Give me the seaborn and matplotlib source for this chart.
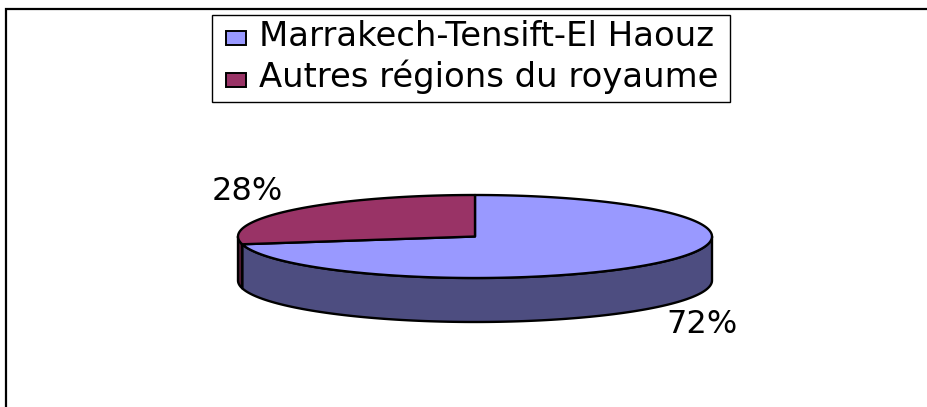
import numpy as np
import matplotlib
matplotlib.use("Agg")
import matplotlib.pyplot as plt
from matplotlib.patches import Polygon, Rectangle
import seaborn as sns

# ---- data ----
categories = ["Marrakech-Tensift-El Haouz", "Autres régions du royaume"]
values = [72, 28]
pct_labels = ["72%", "28%"]
top_colors = ["#9999FF", "#993366"]
side_colors = ["#4D4D80", "#4D1A33"]

sns.set_theme(style="white")
plt.rcParams["font.family"] = ["DejaVu Sans"]
plt.rcParams["text.color"] = "black"

W, H = 928, 407
fig = plt.figure(figsize=(W / 100, H / 100), dpi=100)
ax = fig.add_axes([0, 0, 1, 1])
ax.set_xlim(0, W)
ax.set_ylim(H, 0)
ax.axis("off")

# geometry of the 3D pie (pixel space)
cx, cy = 475, 236.5
a, b = 237, 41.5
depth = 44


def pt(theta_deg, dz=0.0):
    t = np.radians(theta_deg)
    return cx + a * np.cos(t), cy - b * np.sin(t) + dz


# slices drawn clockwise starting at 12 o'clock
total = float(sum(values))
angles = []
start = 90.0
for v in values:
    sweep = 360.0 * v / total
    angles.append((start - sweep, start))
    start -= sweep

edge_kw = dict(edgecolor="black", linewidth=1.7, joinstyle="round")

# side walls (front half)
for (t1, t2), sc in zip(angles, side_colors):
    for shift in (-360, 0, 360):
        lo, hi = t1 + shift, t2 + shift
        s_lo, s_hi = max(lo, 180), min(hi, 360)
        if s_hi > s_lo:
            th = np.linspace(s_lo, s_hi, 120)
            top = [pt(t) for t in th]
            bot = [pt(t, depth) for t in th[::-1]]
            ax.add_patch(Polygon(top + bot, closed=True, facecolor=sc, **edge_kw, zorder=2))

# top faces
for (t1, t2), tc in zip(angles, top_colors):
    th = np.linspace(t1, t2, 240)
    poly = [(cx, cy)] + [pt(t) for t in th]
    ax.add_patch(Polygon(poly, closed=True, facecolor=tc, **edge_kw, zorder=3))

# percentage labels
rx, ry = 1.245, 1.38
for (t1, t2), lab in zip(angles, pct_labels):
    mid = np.radians((t1 + t2) / 2)
    x = cx + rx * a * np.cos(mid)
    y = cy - ry * b * np.sin(mid)
    if np.sin(mid) < 0:
        y += depth + 16
    ax.text(x, y, lab, fontsize=23, ha="center", va="baseline", color="black", zorder=5)

# legend (framed box with swatches)
ax.add_patch(Rectangle((212, 14.5), 518, 87, facecolor="white", edgecolor="black",
                       linewidth=1.0, zorder=6))
for i, (lab, col) in enumerate(zip(categories, top_colors)):
    ytop = 31 + 42 * i
    ax.add_patch(Rectangle((226, ytop), 20, 14, facecolor=col, edgecolor="black",
                           linewidth=1.4, zorder=7))
    ax.text(259, 45.5 + 42 * i, lab, fontsize=24.4, ha="left", va="baseline",
            color="black", zorder=7)

# outer chart frame (top and left edges visible)
fig.patches.append(Rectangle((6 / W, -0.05), 1.2, 1 - 8.5 / H + 0.05, transform=fig.transFigure,
                             fill=False, edgecolor="black", linewidth=1.6, zorder=10))

fig.savefig("out.png", dpi=100)
